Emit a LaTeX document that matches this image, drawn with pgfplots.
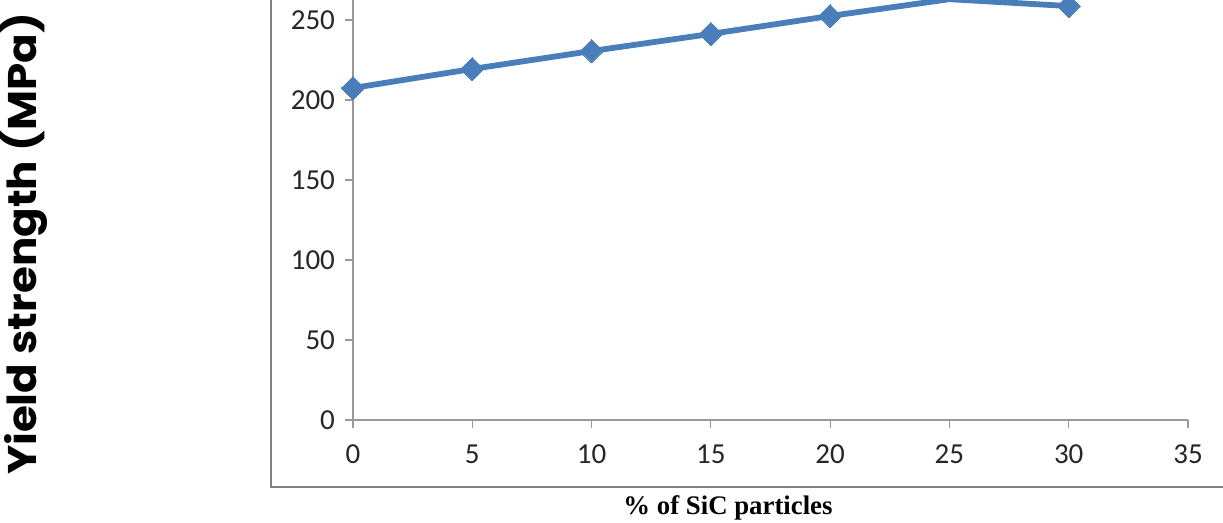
\documentclass[border=0pt]{standalone}
\usepackage{fontspec}
\setmainfont{Carlito}
\newfontfamily\ylabfont{Poppins}
\newfontfamily\xlabfont{Liberation Serif}
\usepackage{pgfplots}
\pgfplotsset{compat=1.18}
\definecolor{exblue}{HTML}{4A7EBB}
\begin{document}
\begin{tikzpicture}
\clip (-176.5pt,-51.5pt) rectangle (435pt,210pt);
\begin{axis}[at={(0,0)}, anchor=origin, scale only axis,
  width=417.5pt, height=210pt,
  xmin=0, xmax=35, ymin=0, ymax=262.5,
  axis lines=left,
  axis line style={-, draw=black!40, line width=0.6pt},
  tick style={black!40, line width=0.6pt},
  tick align=outside, major tick length=4pt,
  xtick={0,5,...,35}, ytick={0,50,...,250},
  ticklabel style={font=\fontsize{14.5}{16}\selectfont, text=black!85},
  yticklabel style={xshift=-1.5pt},
  xticklabel style={yshift=-5pt},
  /pgf/number format/assume math mode=true,
  clip=true]
\addplot[exblue, line width=2.9pt, mark=square*, mark size=4.1pt,
  mark options={fill=exblue, draw=exblue, line width=0pt, rotate=45}]
  coordinates {(0,207.5)(5,219.4)(10,230.6)(15,241.3)(20,252.5)(25,263)(30,258.7)};
\end{axis}
\draw[black!50, line width=1pt] (-41pt,215pt) -- (-41pt,-33.5pt) -- (440pt,-33.5pt);
\node[rotate=90, xscale=1.09, font=\ylabfont\bfseries\fontsize{20}{24}\selectfont] at (-164.5pt,88pt) {Yield strength (MPa)};
\node[font=\xlabfont\bfseries\fontsize{13.4}{15}\selectfont] at (187.5pt,-44pt) {\% of SiC particles};
\end{tikzpicture}
\end{document}
